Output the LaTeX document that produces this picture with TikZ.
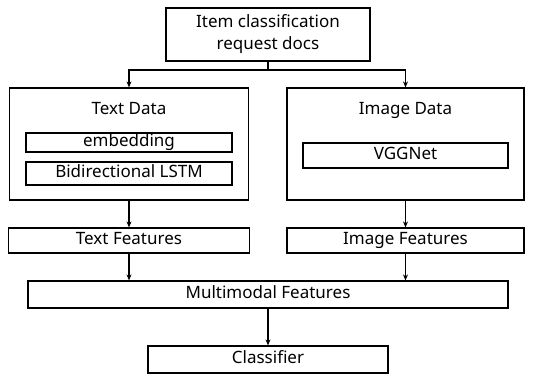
\documentclass[tikz,border=0pt]{standalone}
\usepackage{fontspec}
\setmainfont{Noto Sans}
\usepackage{tikz}
\usetikzlibrary{arrows.meta,positioning}
\tikzstyle{arrow} = [line width=1.2pt,-{Stealth[length=6pt,width=5pt]},color=black]
\tikzstyle{line} = [line width=1.2pt,color=black]
\tikzstyle{block} = [rectangle, draw=black, line width=1.2pt, inner sep=0pt, text centered, text height=12pt, text depth=3.5pt, font=\fontsize{17}{22}\selectfont]
\tikzstyle{title} = [inner sep=0pt, text height=12pt, text depth=3.5pt, font=\fontsize{17}{22}\selectfont]

\begin{document}
\begin{tikzpicture}[x=1pt, y=-1pt]
    \useasboundingbox (0,0) rectangle (535,375);

    % Input documents
    \node[block, minimum width=204pt, minimum height=53pt, align=center, text height=, text depth=] (docs) at (268, 34.5) {Item classification\\request docs};
    \coordinate (split) at (268, 70);

    % Text branch
    \node[block, minimum width=239pt, minimum height=112pt] (textdata) at (129, 144) {};
    \node[title] (texttitle) at (129, 110) {Text Data};
    \node[block, minimum width=206pt, minimum height=19pt] (embed) at (129, 142.5) {embedding};
    \node[block, minimum width=206pt, minimum height=23pt] (bilstm) at (129, 173.5) {Bidirectional LSTM};
    \node[block, minimum width=241pt, minimum height=25pt] (textfeat) at (129, 240.5) {Text Features};

    % Image branch
    \node[block, minimum width=237pt, minimum height=112pt] (imgdata) at (405.5, 144) {};
    \node[title] (imgtitle) at (405.5, 110) {Image Data};
    \node[block, minimum width=205pt, minimum height=25pt] (vgg) at (405.5, 155.5) {VGGNet};
    \node[block, minimum width=237pt, minimum height=25pt] (imgfeat) at (405.5, 240.5) {Image Features};

    % Fusion and output
    \node[block, minimum width=480pt, minimum height=27pt] (multi) at (268, 294.5) {Multimodal Features};
    \node[block, minimum width=240pt, minimum height=27pt] (clf) at (268, 359.5) {Classifier};

    % Connections
    \draw[line] (docs.south) -- (split);
    \draw[arrow] (split) -| (textdata.north);
    \draw[arrow] (split) -| (imgdata.north);
    \draw[arrow] (textdata.south) -- (textfeat.north);
    \draw[arrow] (imgdata.south) -- (imgfeat.north);
    \draw[arrow] (textfeat.south) -- (textfeat.south |- multi.north);
    \draw[arrow] (imgfeat.south) -- (imgfeat.south |- multi.north);
    \draw[arrow] (multi.south) -- (clf.north);
\end{tikzpicture}
\end{document}
